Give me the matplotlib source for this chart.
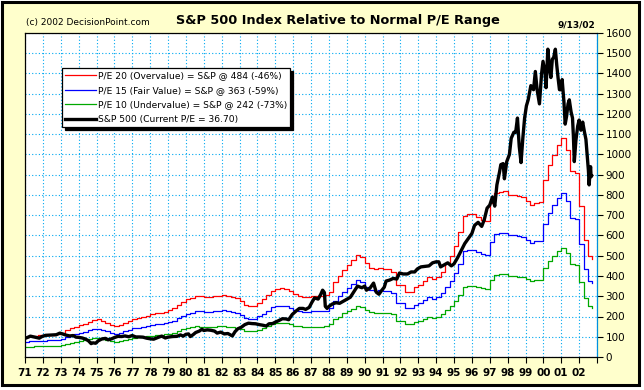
# sp500_pe_range.py
import numpy as np
import matplotlib
matplotlib.use("Agg")
import matplotlib.pyplot as plt
from matplotlib.patches import Rectangle

eps_dates = [
    1971.00, 1971.25, 1971.50, 1971.75, 1972.00, 1972.25, 1972.50, 1972.75,
    1973.00, 1973.25, 1973.50, 1973.75, 1974.00, 1974.25, 1974.50, 1974.75,
    1975.00, 1975.25, 1975.50, 1975.75, 1976.00, 1976.25, 1976.50, 1976.75,
    1977.00, 1977.25, 1977.50, 1977.75, 1978.00, 1978.25, 1978.50, 1978.75,
    1979.00, 1979.25, 1979.50, 1979.75, 1980.00, 1980.25, 1980.50, 1980.75,
    1981.00, 1981.25, 1981.50, 1981.75, 1982.00, 1982.25, 1982.50, 1982.75,
    1983.00, 1983.25, 1983.50, 1983.75, 1984.00, 1984.25, 1984.50, 1984.75,
    1985.00, 1985.25, 1985.50, 1985.75, 1986.00, 1986.25, 1986.50, 1986.75,
    1987.00, 1987.25, 1987.50, 1987.75, 1988.00, 1988.25, 1988.50, 1988.75,
    1989.00, 1989.25, 1989.50, 1989.75, 1990.00, 1990.25, 1990.50, 1990.75,
    1991.00, 1991.25, 1991.50, 1991.75, 1992.00, 1992.25, 1992.50, 1992.75,
    1993.00, 1993.25, 1993.50, 1993.75, 1994.00, 1994.25, 1994.50, 1994.75,
    1995.00, 1995.25, 1995.50, 1995.75, 1996.00, 1996.25, 1996.50, 1996.75,
    1997.00, 1997.25, 1997.50, 1997.75, 1998.00, 1998.25, 1998.50, 1998.75,
    1999.00, 1999.25, 1999.50, 1999.75, 2000.00, 2000.25, 2000.50, 2000.75,
    2001.00, 2001.25, 2001.50, 2001.75, 2002.00, 2002.25, 2002.50, 2002.70,
]
eps_values = [
    5.00, 5.15, 5.25, 5.35, 5.40, 5.50, 5.50, 5.60,
    6.00, 6.60, 7.10, 7.50, 7.90, 8.25, 8.75, 9.25,
    9.35, 9.00, 8.50, 8.00, 7.65, 7.90, 8.40, 9.00,
    9.40, 9.65, 9.80, 10.15, 10.50, 10.75, 10.90, 11.20,
    11.50, 12.00, 12.90, 13.60, 14.25, 14.65, 15.15, 15.00,
    14.90, 14.75, 15.00, 15.15, 15.35, 15.00, 14.80, 14.50,
    13.75, 12.75, 12.65, 12.65, 13.40, 14.25, 15.30, 16.35,
    16.80, 16.95, 16.75, 16.25, 15.50, 15.10, 14.70, 14.80,
    15.00, 15.05, 15.05, 15.25, 16.10, 18.60, 20.00, 21.50,
    22.75, 23.95, 25.25, 24.80, 23.15, 22.00, 21.65, 21.90,
    21.75, 21.75, 21.10, 17.80, 17.80, 16.15, 16.15, 17.20,
    17.80, 18.85, 19.70, 19.25, 19.75, 21.00, 23.10, 25.00,
    27.50, 30.75, 34.75, 35.20, 35.20, 34.50, 33.95, 33.50,
    38.00, 40.50, 40.75, 40.90, 40.10, 40.00, 39.70, 39.50,
    38.50, 37.65, 38.05, 38.25, 43.80, 47.50, 49.95, 52.40,
    54.05, 51.20, 45.85, 45.45, 37.25, 29.00, 25.00, 24.20,
]

# S&P 500 closes
sp_dates = [
    1971.00, 1971.15, 1971.30, 1971.45, 1971.60, 1971.80, 1971.95, 1972.15,
    1972.35, 1972.55, 1972.75, 1972.95, 1973.10, 1973.30, 1973.50, 1973.70,
    1973.85, 1974.00, 1974.20, 1974.40, 1974.55, 1974.70, 1974.80, 1974.95,
    1975.10, 1975.30, 1975.50, 1975.65, 1975.85, 1976.00, 1976.20, 1976.40,
    1976.60, 1976.80, 1977.00, 1977.20, 1977.40, 1977.60, 1977.80, 1978.00,
    1978.20, 1978.45, 1978.65, 1978.85, 1979.00, 1979.25, 1979.50, 1979.70,
    1979.85, 1980.00, 1980.15, 1980.25, 1980.40, 1980.55, 1980.75, 1980.90,
    1981.00, 1981.20, 1981.40, 1981.60, 1981.75, 1981.95, 1982.15, 1982.35,
    1982.50, 1982.60, 1982.75, 1982.90, 1983.10, 1983.30, 1983.50, 1983.70,
    1983.90, 1984.10, 1984.30, 1984.50, 1984.65, 1984.85, 1985.00, 1985.20,
    1985.40, 1985.60, 1985.75, 1985.95, 1986.15, 1986.35, 1986.55, 1986.70,
    1986.90, 1987.05, 1987.20, 1987.40, 1987.55, 1987.65, 1987.75, 1987.80,
    1987.90, 1988.00, 1988.20, 1988.40, 1988.60, 1988.80, 1989.00, 1989.20,
    1989.40, 1989.60, 1989.75, 1989.85, 1990.00, 1990.10, 1990.30, 1990.50,
    1990.65, 1990.80, 1990.95, 1991.10, 1991.20, 1991.40, 1991.60, 1991.80,
    1991.95, 1992.15, 1992.40, 1992.60, 1992.80, 1992.95, 1993.15, 1993.40,
    1993.60, 1993.80, 1994.00, 1994.15, 1994.25, 1994.45, 1994.65, 1994.85,
    1995.00, 1995.20, 1995.40, 1995.60, 1995.80, 1996.00, 1996.15, 1996.35,
    1996.55, 1996.70, 1996.85, 1997.00, 1997.15, 1997.28, 1997.40, 1997.55,
    1997.62, 1997.75, 1997.82, 1997.95, 1998.10, 1998.20, 1998.35, 1998.45,
    1998.55, 1998.65, 1998.75, 1998.85, 1998.95, 1999.05, 1999.15, 1999.30,
    1999.45, 1999.55, 1999.65, 1999.78, 1999.90, 1999.98, 2000.10, 2000.15,
    2000.25, 2000.35, 2000.42, 2000.50, 2000.58, 2000.67, 2000.75, 2000.82,
    2000.90, 2000.98, 2001.05, 2001.15, 2001.22, 2001.30, 2001.38, 2001.45,
    2001.55, 2001.63, 2001.68, 2001.73, 2001.82, 2001.92, 2002.00, 2002.10,
    2002.20, 2002.30, 2002.38, 2002.45, 2002.52, 2002.56, 2002.60, 2002.64,
    2002.67, 2002.70,
]
sp_values = [
    92, 97, 103, 100, 97, 93, 101, 107,
    108, 109, 110, 118, 114, 108, 104, 106,
    98, 97, 94, 88, 80, 66, 70, 68,
    80, 89, 92, 85, 90, 96, 102, 101,
    104, 100, 106, 99, 99, 98, 93, 90,
    88, 97, 103, 94, 98, 101, 102, 109,
    103, 112, 114, 101, 110, 121, 128, 137,
    131, 134, 132, 128, 118, 123, 114, 116,
    109, 104, 125, 139, 147, 160, 167, 165,
    164, 160, 157, 153, 164, 165, 172, 180,
    189, 188, 184, 210, 226, 240, 240, 235,
    245, 270, 292, 286, 310, 330, 318, 250,
    240, 250, 262, 268, 265, 275, 285, 295,
    322, 350, 345, 342, 350, 330, 340, 365,
    320, 310, 328, 345, 375, 380, 388, 385,
    415, 410, 410, 420, 420, 435, 445, 448,
    450, 465, 470, 470, 445, 455, 465, 450,
    460, 490, 525, 560, 585, 610, 650, 665,
    645, 680, 735, 750, 790, 745, 850, 915,
    950, 955, 880, 965, 1000, 1080, 1110, 1110,
    1180, 1040, 960, 1080, 1180, 1240, 1270, 1340,
    1320, 1410, 1320, 1250, 1400, 1460, 1400, 1330,
    1520, 1420, 1380, 1470, 1480, 1520, 1440, 1380,
    1320, 1320, 1370, 1260, 1150, 1190, 1250, 1270,
    1210, 1180, 1090, 965, 1070, 1140, 1170, 1120,
    1160, 1110, 1075, 1000, 920, 850, 900, 940,
    890, 895,
]

pe_multiples = [20, 15, 10]
band_labels = [
    "P/E 20 (Overvalue) = S&P @ 484 (-46%)",
    "P/E 15 (Fair Value) = S&P @ 363 (-59%)",
    "P/E 10 (Undervalue) = S&P @ 242 (-73%)",
]
band_colors = ["#FF0000", "#0000FF", "#00A800"]
sp_label = "S&P 500 (Current P/E = 36.70)"

year_ticks = list(range(1971, 2004))
year_labels = ["%02d" % (y % 100) for y in range(1971, 2003)] + [""]
price_ticks = list(range(0, 1700, 100))

W, H = 644, 390


def plot_pe_chart():
    fig = plt.figure(figsize=(W / 100, H / 100), dpi=100)
    fig.patch.set_facecolor("white")
    # yellow panel with black frame, kept behind the axes
    fig.patches.append(Rectangle((1.5 / W, 5.5 / H), 637 / W, 383 / H,
                                 transform=fig.transFigure, facecolor="#FFFFCC",
                                 edgecolor="black", linewidth=2.2, zorder=-10))

    ax = fig.add_axes([25 / W, 33 / H, 572 / W, 324 / H])
    ax.set_facecolor("white")

    eps = np.array(eps_values)
    for pe, color, label in zip(pe_multiples, band_colors, band_labels):
        ax.step(eps_dates, eps * pe, where="post", color=color, lw=0.9, label=label)
    ax.plot(sp_dates, sp_values, color="black", lw=2.4, label=sp_label)

    ax.set_xlim(1971, 2003)
    ax.set_ylim(0, 1600)
    ax.set_xticks(year_ticks)
    ax.set_xticklabels(year_labels, fontsize=7.5, fontweight="bold")
    ax.yaxis.tick_right()
    ax.set_yticks(price_ticks)
    ax.tick_params(axis="y", direction="out", length=4, width=0.8, pad=2, labelsize=7.5)
    ax.tick_params(axis="x", direction="out", length=4, width=0.8, pad=4)

    ax.set_axisbelow(True)
    ax.grid(True, color="#00A8F0", linestyle=(0, (1, 2)), linewidth=0.8)
    for side in ["left", "top", "bottom"]:
        ax.spines[side].set_color("black")
        ax.spines[side].set_linewidth(0.9)
    ax.spines["right"].set_color("#0090E0")
    ax.spines["right"].set_linewidth(0.9)

    leg = ax.legend(loc="upper left", bbox_to_anchor=(0.0647, 0.892), borderaxespad=0,
                    fontsize=6.6, fancybox=False, framealpha=1, edgecolor="black",
                    shadow={"color": "black", "alpha": 1},
                    handlelength=3.35, handletextpad=0.2, labelspacing=0.62, borderpad=0.35)
    leg.get_frame().set_linewidth(0.9)

    fig.text(25.6 / W, 1 - 22.5 / H, "(c) 2002 DecisionPoint.com", fontsize=6.5,
             ha="left", va="center")
    fig.text(338 / W, 1 - 20.5 / H, "S&P 500 Index Relative to Normal P/E Range",
             fontsize=9.3, fontweight="bold", ha="center", va="center")
    fig.text(595 / W, 1 - 25 / H, "9/13/02", fontsize=6.5, fontweight="bold",
             ha="right", va="center")

    fig.savefig("out.png", dpi=100)


if __name__ == "__main__":
    plot_pe_chart()
